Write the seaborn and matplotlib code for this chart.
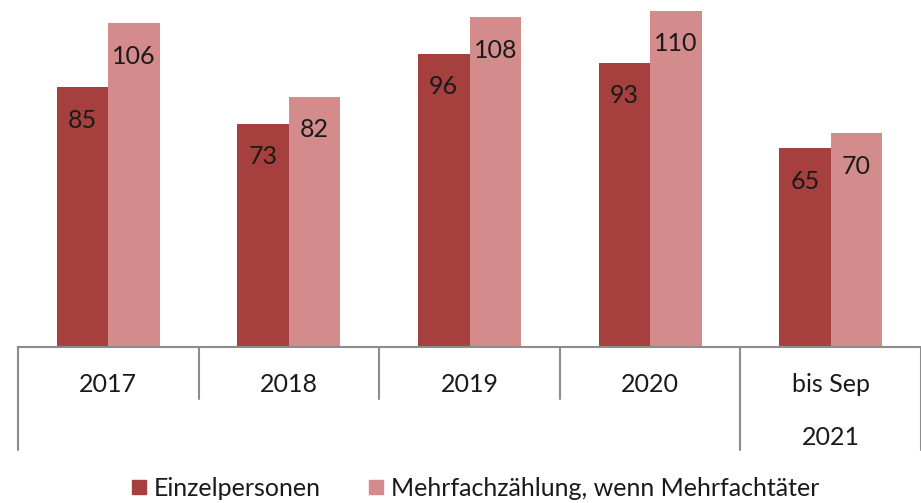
import matplotlib
matplotlib.use("Agg")
import matplotlib.pyplot as plt
from matplotlib.lines import Line2D
import matplotlib.transforms as mtransforms
import pandas as pd
import seaborn as sns

# Data
categories = ["2017", "2018", "2019", "2020", "bis Sep\n2021"]
einzelpersonen = [85, 73, 96, 93, 65]
mehrfach = [106, 82, 108, 110, 70]
series_names = ["Einzelpersonen", "Mehrfachzählung, wenn Mehrfachtäter"]
colors = ["#A6403E", "#D38B8B"]

sns.set_theme(style="white")
plt.rcParams["font.family"] = ["Lato", "DejaVu Sans"]

df = pd.DataFrame({
    "category": categories * 2,
    "value": einzelpersonen + mehrfach,
    "series": [series_names[0]] * len(categories) + [series_names[1]] * len(categories),
})

fig = plt.figure(figsize=(9.21, 5.03), dpi=100)
ax = fig.add_axes([18 / 921, 1 - 347 / 503, 903 / 921, 347 / 503])

sns.barplot(data=df, x="category", y="value", hue="series", order=categories,
            hue_order=series_names, palette=colors, width=0.57, saturation=1,
            linewidth=0, legend=False, ax=ax)

ax.set_xlim(-0.5, len(categories) - 0.5)
ax.set_ylim(0, 113.6)
ax.set_yticks([])
ax.set_xlabel("")
ax.set_ylabel("")
for side in ["top", "right", "left"]:
    ax.spines[side].set_visible(False)
ax.spines["bottom"].set_color("#8c8c8c")
ax.spines["bottom"].set_linewidth(1.5)

# value labels inside the bars, just below the top
for container in ax.containers:
    ax.bar_label(container, labels=[f"{v:.0f}" for v in container.datavalues],
                 padding=-32, fontsize=18, color="#1a1a1a")

# category labels
ax.set_xticks(range(len(categories)))
ax.set_xticklabels(categories, fontsize=18, color="#1a1a1a", linespacing=2.55)
ax.tick_params(axis="x", length=0, pad=19)

# category separators below the axis (multi-level axis look)
trans = mtransforms.blended_transform_factory(ax.transData, fig.transFigure)
for i in range(len(categories) + 1):
    xb = i - 0.5
    long_line = i in (0, len(categories) - 1, len(categories))
    y_end = 1 - (450 if long_line else 399) / 503
    ax.plot([xb, xb], [1 - 347 / 503, y_end], transform=trans, color="#8c8c8c",
            lw=1.5, clip_on=False)

handles = [Line2D([], [], marker="s", linestyle="none", markersize=10,
                  markerfacecolor=c, markeredgecolor=c) for c in colors]
fig.legend(handles, series_names, loc="center", bbox_to_anchor=(475 / 921, 1 - 488 / 503),
           ncol=2, frameon=False, fontsize=18, handlelength=0.6, handletextpad=0.3,
           columnspacing=1.9, labelcolor="#1a1a1a")

fig.savefig("out.png", dpi=100)
